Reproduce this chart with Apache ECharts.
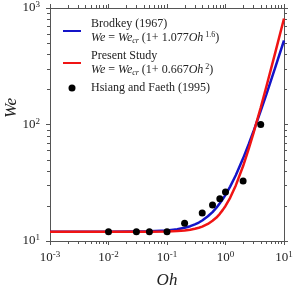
<!DOCTYPE html>
<html><head><meta charset="utf-8">
<script src="https://cdn.jsdelivr.net/npm/echarts@6/dist/echarts.min.js"></script>
<style>html,body{margin:0;padding:0;background:#fff}#c{width:295px;height:290px}</style>
</head><body><div id="c"></div>
<script>
// Data
var curveOh = [0.001, 0.01, 0.05, 0.1, 0.15, 0.2, 0.25, 0.3, 0.35, 0.4, 0.5, 0.6, 0.7, 0.8, 0.9, 1.0, 1.2, 1.5, 2.0, 2.5, 3.0, 4.0, 5.0, 7.0, 10.0];
var brodkeyWe = [12, 12.0, 12.1, 12.3, 12.6, 13.0, 13.4, 13.9, 14.4, 15.0, 16.3, 17.7, 19.3, 21.1, 22.9, 24.9, 29.3, 36.7, 51.2, 68.0, 87.0, 130.8, 181.7, 302.8, 526];
var presentWe = [12, 12.0, 12.02, 12.08, 12.18, 12.32, 12.5, 12.72, 12.98, 13.28, 14.0, 14.9, 15.9, 17.1, 18.5, 20.0, 23.5, 30.0, 44.0, 62.0, 84.0, 140, 212, 404, 812];
var expOh = [0.01, 0.03, 0.05, 0.1, 0.2, 0.4, 0.6, 0.8, 1.0, 2.0, 4.0];
var expWe = [12, 12, 12, 12, 14.2, 17.4, 20.4, 23.0, 26.3, 32.7, 100];
var xMinorTicks = [];
[0.001, 0.01, 0.1, 1].forEach(function(d){ for (var k = 2; k <= 9; k++) xMinorTicks.push(d * k); });
var yMinorTicks = [];
[10, 100].forEach(function(d){ for (var k = 2; k <= 9; k++) yMinorTicks.push(d * k); });

function pairs(a, b){ return a.map(function(v, i){ return [v, b[i]]; }); }
var FONT = 'Liberation Serif';
var AX = '#555';
function powLabel(v){ var e = Math.round(Math.log10(v)); return '{b|10}{s|' + e + '}'; }
var labelRich = {
  b: {fontFamily: FONT, fontSize: 13, color: '#222', lineHeight: 15},
  s: {fontFamily: FONT, fontSize: 9, color: '#222', verticalAlign: 'top', lineHeight: 9}
};
function axisBase(extra){
  var o = {
    type: 'log', logBase: 10,
    axisLine: {show: true, lineStyle: {color: AX, width: 1}},
    axisTick: {show: true, inside: false, length: 4, lineStyle: {color: AX, width: 1}},
    splitLine: {show: false}
  };
  for (var k in extra) o[k] = extra[k];
  return o;
}
var tickData = xMinorTicks.map(function(v){ return [0, v]; }).concat(yMinorTicks.map(function(v){ return [1, v]; }));
var noSym = {color: 'rgba(0,0,0,0)', borderColor: 'rgba(0,0,0,0)', borderWidth: 0};

var chart = echarts.init(document.getElementById('c'), null, {renderer: 'canvas'});
chart.setOption({
  animation: false,
  grid: {left: 50, right: 11, top: 8, bottom: 49, containLabel: false, outerBoundsMode: 'none'},
  xAxis: [
    axisBase({min: 0.001, max: 10, position: 'bottom', splitNumber: 4,
      axisLabel: {margin: 9, formatter: powLabel, rich: labelRich},
      name: 'Oh', nameLocation: 'middle', nameGap: 31,
      nameTextStyle: {fontFamily: FONT, fontStyle: 'italic', fontSize: 17, color: '#222'}}),
    axisBase({min: 0.001, max: 10, position: 'top', splitNumber: 4, axisLabel: {show: false}})
  ],
  yAxis: [
    axisBase({min: 10, max: 1000, position: 'left', splitNumber: 2,
      axisLabel: {margin: 10, formatter: powLabel, rich: labelRich}}),
    axisBase({min: 10, max: 1000, position: 'right', splitNumber: 2, axisLabel: {show: false}})
  ],
  graphic: [{type: 'text', x: 12, y: 108, rotation: Math.PI / 2,
    style: {text: 'We', align: 'center', verticalAlign: 'middle', font: 'italic 17px "Liberation Serif"', fill: '#222'}}],
  legend: {
    orient: 'vertical', left: 57, top: 13, itemWidth: 18, itemHeight: 7, itemGap: 5,
    data: [{name: 'Brodkey', itemStyle: noSym}, {name: 'Present', itemStyle: noSym}, {name: 'Hsiang'}],
    textStyle: {
      fontFamily: FONT, fontSize: 12, color: '#222', padding: [0, 0, 0, 5],
      rich: {
        t: {fontFamily: FONT, fontSize: 12, color: '#222', lineHeight: 14},
        i: {fontFamily: FONT, fontSize: 12, fontStyle: 'italic', color: '#222', lineHeight: 14},
        sub: {fontFamily: FONT, fontSize: 8, fontStyle: 'italic', color: '#222', verticalAlign: 'bottom', lineHeight: 9},
        sup: {fontFamily: FONT, fontSize: 8, color: '#222', verticalAlign: 'top', lineHeight: 9}
      }
    },
    formatter: function(n){
      if (n === 'Brodkey') return '{t|Brodkey (1967)}\n{i|We}{t| = }{i|We}{sub|cr}{t| (1+ 1.077}{i|Oh}{sup| 1.6}{t|)}';
      if (n === 'Present') return '{t|Present Study}\n{i|We}{t| = }{i|We}{sub|cr}{t| (1+ 0.667}{i|Oh}{sup| 2}{t|)}';
      return '{t|Hsiang and Faeth (1995)}';
    }
  },
  series: [
    {name: 'Brodkey', type: 'line', data: pairs(curveOh, brodkeyWe), symbol: 'none', smooth: false,
      lineStyle: {color: '#1414c8', width: 2.5}, itemStyle: {color: '#1414c8'}, z: 2},
    {name: 'Present', type: 'line', data: pairs(curveOh, presentWe), symbol: 'none', smooth: false,
      lineStyle: {color: '#f01414', width: 2.5}, itemStyle: {color: '#f01414'}, z: 3},
    {name: 'Hsiang', type: 'scatter', data: pairs(expOh, expWe), symbol: 'circle', symbolSize: 7,
      itemStyle: {color: '#000', opacity: 1}, z: 4},
    {name: 'minorTicks', type: 'custom', data: tickData, clip: false, silent: true, z: 1,
      renderItem: function(params, api){
        var cs = params.coordSys;
        var kind = api.value(0), v = api.value(1);
        var L = 3, sty = {stroke: AX, lineWidth: 1};
        if (kind === 0) {
          var px = Math.round(api.coord([v, 100])[0]) + 0.5;
          return {type: 'group', children: [
            {type: 'line', shape: {x1: px, y1: cs.y + cs.height, x2: px, y2: cs.y + cs.height + L}, style: sty},
            {type: 'line', shape: {x1: px, y1: cs.y, x2: px, y2: cs.y - L}, style: sty}
          ]};
        } else {
          var py = Math.round(api.coord([1, v])[1]) + 0.5;
          return {type: 'group', children: [
            {type: 'line', shape: {x1: cs.x, y1: py, x2: cs.x - L, y2: py}, style: sty},
            {type: 'line', shape: {x1: cs.x + cs.width, y1: py, x2: cs.x + cs.width + L, y2: py}, style: sty}
          ]};
        }
      }
    }
  ]
});
</script></body></html>
